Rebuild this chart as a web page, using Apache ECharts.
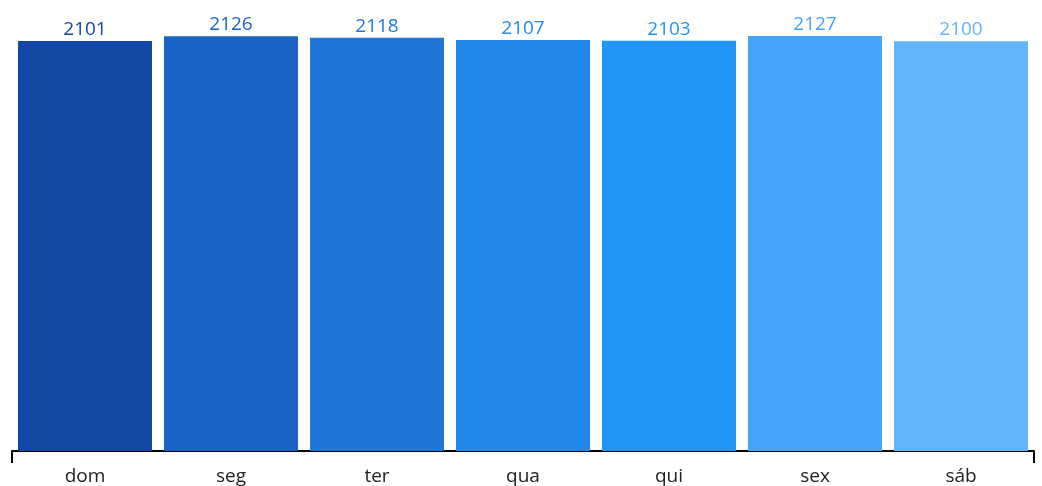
<!DOCTYPE html>
<html>
<head>
<meta charset="utf-8">
<script src="https://cdn.jsdelivr.net/npm/echarts@6/dist/echarts.min.js"></script>
<style>html,body{margin:0;padding:0;background:#fff}#c{width:1042px;height:486px}</style>
</head>
<body>
<div id="c"></div>
<script>
const categories = ['dom', 'seg', 'ter', 'qua', 'qui', 'sex', 'sáb'];
const values = [2101, 2126, 2118, 2107, 2103, 2127, 2100];
const colors = ['#1446A6', '#1A62C4', '#1E77D6', '#2088E8', '#2196F7', '#42A5F9', '#62B4FB'];

const chart = echarts.init(document.getElementById('c'), null, {renderer: 'canvas'});
chart.setOption({
  animation: false,
  grid: {left: 12, right: 8, top: 36, bottom: 35, containLabel: false},
  xAxis: {
    type: 'category',
    data: categories,
    axisLine: {lineStyle: {color: '#000', width: 2}},
    axisTick: {show: true, interval: 100, length: 12, lineStyle: {color: '#000', width: 2}},
    axisLabel: {color: '#222', fontFamily: 'Open Sans', fontSize: 19, margin: 16}
  },
  yAxis: {
    type: 'value', min: 0, max: 2127, show: false, splitLine: {show: false}
  },
  series: [{
    type: 'bar',
    barWidth: 134,
    data: values.map((v, i) => ({value: v, itemStyle: {color: colors[i]}, label: {color: colors[i]}})),
    label: {show: true, position: 'top', distance: 2, fontFamily: 'Open Sans', fontSize: 19}
  }]
});
</script>
</body>
</html>
